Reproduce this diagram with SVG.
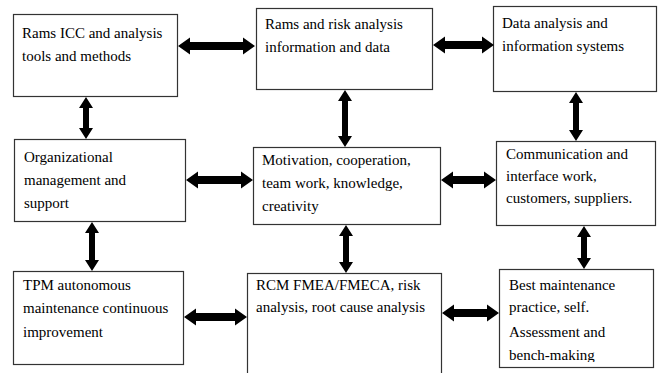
<svg xmlns="http://www.w3.org/2000/svg" width="661" height="373" viewBox="0 0 661 373">
<style>
.box{fill:#fff;stroke:#333;stroke-width:1.2}
.t{font-family:'Liberation Serif','DejaVu Serif',serif;font-size:15px;fill:#000}
.arr{fill:#000}
</style>
<defs>
<clipPath id="c5"><rect x="250" y="140" width="200" height="75"/></clipPath>
<clipPath id="c9"><rect x="495" y="265" width="165" height="97"/></clipPath>
</defs>
<rect width="661" height="373" fill="#fff"/>
<g id="n1"><rect class="box" x="13.5" y="14.5" width="164" height="82"/>
<text class="t" font-family="Liberation Serif" x="22" y="38">Rams ICC and analysis</text><text class="t" font-family="Liberation Serif" x="22" y="61">tools and methods</text></g>
<g id="n2"><rect class="box" x="256.5" y="8.5" width="176" height="81"/>
<text class="t" x="265" y="29">Rams and risk analysis</text><text class="t" x="265" y="52">information and data</text></g>
<g id="n3"><rect class="box" x="493.5" y="6.5" width="163" height="85"/>
<text class="t" x="502" y="28">Data analysis and</text><text class="t" x="502" y="51">information systems</text></g>
<g id="n4"><rect class="box" x="14.5" y="139.5" width="171" height="82"/>
<text class="t" x="24" y="162">Organizational</text><text class="t" x="24" y="185">management and</text><text class="t" x="24" y="208">support</text></g>
<g id="n5"><rect class="box" x="253.5" y="147.5" width="187" height="77"/>
<g clip-path="url(#c5)"><text class="t" x="262" y="165">Motivation, cooperation,</text><text class="t" x="262" y="188">team work, knowledge,</text><text class="t" x="262" y="211">creativity</text></g></g>
<g id="n6"><rect class="box" x="496.5" y="141.5" width="159" height="84"/>
<text class="t" x="506" y="159">Communication and</text><text class="t" x="506" y="181">interface work,</text><text class="t" x="506" y="203">customers, suppliers.</text></g>
<g id="n7"><rect class="box" x="13.5" y="271.5" width="170" height="93"/>
<text class="t" x="23" y="290">TPM autonomous</text><text class="t" x="23" y="313">maintenance continuous</text><text class="t" x="23" y="337">improvement</text></g>
<g id="n8"><rect class="box" x="247.5" y="273.5" width="194" height="110"/>
<text class="t" x="256" y="290">RCM FMEA/FMECA, risk</text><text class="t" x="256" y="312">analysis, root cause analysis</text></g>
<g id="n9"><rect class="box" x="499.5" y="269.5" width="154" height="98"/>
<g clip-path="url(#c9)"><text class="t" x="509" y="290">Best maintenance</text><text class="t" x="509" y="312">practice, self.</text><text class="t" x="509" y="337">Assessment and</text><text class="t" x="509" y="360">bench-making</text></g></g>
<g id="connectors">
<polygon class="arr" points="178,46 190,37.5 190,42 243,42 243,37.5 255,46 243,54.5 243,50 190,50 190,54.5"/>
<polygon class="arr" points="433,45 445,36.5 445,41 482,41 482,36.5 494,45 482,53.5 482,49 445,49 445,53.5"/>
<polygon class="arr" points="186,180 198,171.5 198,176 241,176 241,171.5 253,180 241,188.5 241,184 198,184 198,188.5"/>
<polygon class="arr" points="441,180 453,171.5 453,176 484,176 484,171.5 496,180 484,188.5 484,184 453,184 453,188.5"/>
<polygon class="arr" points="184,317 196,308.5 196,313 235,313 235,308.5 247,317 235,325.5 235,321 196,321 196,325.5"/>
<polygon class="arr" points="442,313 454,304.5 454,309 487,309 487,304.5 499,313 487,321.5 487,317 454,317 454,321.5"/>
<polygon class="arr" points="86,97 93,108 89,108 89,128 93,128 86,139 79,128 83,128 83,108 79,108"/>
<polygon class="arr" points="345,90 352,101 348,101 348,136 352,136 345,147 338,136 342,136 342,101 338,101"/>
<polygon class="arr" points="576,92 583,103 579,103 579,130 583,130 576,141 569,130 573,130 573,103 569,103"/>
<polygon class="arr" points="92,222 99,233 95,233 95,260 99,260 92,271 85,260 89,260 89,233 85,233"/>
<polygon class="arr" points="346,225 353,236 349,236 349,262 353,262 346,273 339,262 343,262 343,236 339,236"/>
<polygon class="arr" points="584,226 591,237 587,237 587,258 591,258 584,269 577,258 581,258 581,237 577,237"/>
</g>
</svg>
